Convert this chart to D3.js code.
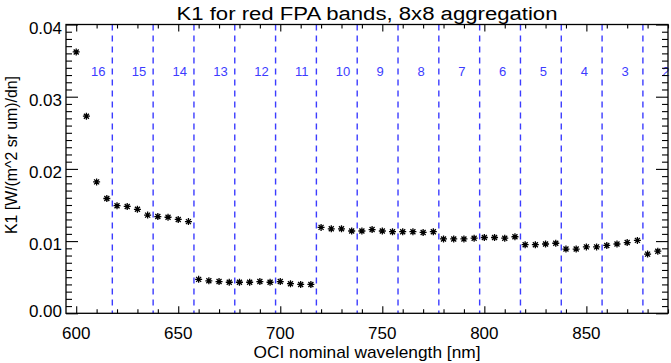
<!DOCTYPE html>
<html>
<head>
<meta charset="utf-8">
<script src="https://cdn.jsdelivr.net/npm/d3@7"></script>
<style>
  body { margin: 0; background: #fff; }
  text { font-family: "Liberation Sans", Arial, sans-serif; }
</style>
</head>
<body>
<svg id="chart"></svg>
<script>
// wavelengths (nm) and K1 values
const wavelengths = [600, 605, 610, 615, 620, 625, 630, 635, 640, 645, 650, 655,
    660, 665, 670, 675, 680, 685, 690, 695, 700, 705, 710, 715,
    720, 725, 730, 735, 740, 745, 750, 755, 760, 765, 770, 775,
    780, 785, 790, 795, 800, 805, 810, 815, 820, 825, 830, 835,
    840, 845, 850, 855, 860, 865, 870, 875, 880, 885];
const k1 = [0.0362, 0.0273, 0.0182, 0.0159, 0.0149, 0.0148, 0.0144, 0.0136, 0.0134, 0.0133, 0.0130, 0.0127,
    0.0047, 0.0045, 0.0044, 0.0043, 0.0043, 0.0043, 0.0044, 0.0043, 0.0044, 0.0041, 0.0040, 0.0040,
    0.0119, 0.0117, 0.0117, 0.0114, 0.0114, 0.0116, 0.0114, 0.0113, 0.0113, 0.0113, 0.0112, 0.0113,
    0.0103, 0.0103, 0.0103, 0.0104, 0.0105, 0.0105, 0.0104, 0.0106,
    0.0095, 0.0095, 0.0096, 0.0097, 0.0089, 0.0089, 0.0092, 0.0092,
    0.0094, 0.0096, 0.0098, 0.0101, 0.0082, 0.0086];

// band borders (dashed lines) and band labels at band centres
const bandEdges = [617.7, 637.7, 657.7, 677.7, 697.7, 717.7, 737.7, 757.7, 777.7, 797.7, 817.7, 837.7, 857.7, 877.7];
const bandNames = ["16", "15", "14", "13", "12", "11", "10", "9", "8", "7", "6", "5", "4", "3", "2"];
const bandCenters = [607.7, 627.7, 647.7, 667.7, 687.7, 707.7, 727.7, 747.7, 767.7, 787.7, 807.7, 827.7, 847.7, 867.7, 887.7];

const xMajor = [600, 650, 700, 750, 800, 850];
const xMinor = [610, 620, 630, 640, 660, 670, 680, 690, 710, 720, 730, 740, 760, 770, 780, 790,
    810, 820, 830, 840, 860, 870, 880, 890];
const yMajor = [0, 0.01, 0.02, 0.03, 0.04];
const yMinor = [0.001, 0.002, 0.003, 0.004, 0.005, 0.006, 0.007, 0.008, 0.009,
    0.011, 0.012, 0.013, 0.014, 0.015, 0.016, 0.017, 0.018, 0.019,
    0.021, 0.022, 0.023, 0.024, 0.025, 0.026, 0.027, 0.028, 0.029,
    0.031, 0.032, 0.033, 0.034, 0.035, 0.036, 0.037, 0.038, 0.039];

const width = 671, height = 363;
const plotLeft = 66, plotRight = 668, plotTop = 24.5, plotBottom = 313.3;
const blue = "#3c3cff";

const svg = d3.select("#chart")
    .attr("width", width)
    .attr("height", height);

const x = d3.scaleLinear().domain([595, 890]).range([plotLeft, plotRight]);
const y = d3.scaleLinear().domain([0, 0.04]).range([plotBottom, plotTop]);

// dashed band borders
svg.selectAll("line.band")
    .data(bandEdges)
    .enter().append("line")
    .attr("class", "band")
    .attr("x1", d => x(d)).attr("x2", d => x(d))
    .attr("y1", plotTop).attr("y2", plotBottom)
    .attr("stroke", blue)
    .attr("stroke-width", 1.4)
    .attr("stroke-dasharray", "6,5");

svg.selectAll("text.bandname")
    .data(bandNames)
    .enter().append("text")
    .attr("class", "bandname")
    .attr("x", (d, i) => x(bandCenters[i]) - 1)
    .attr("y", 75.5)
    .attr("fill", blue)
    .style("font-size", "13px")
    .text(d => d);

// axes: ticks pointing inward, all four sides
function axisTicks(axisFn, scale, values, size, transform) {
    const g = svg.append("g")
        .attr("transform", transform)
        .call(axisFn(scale).tickValues(values).tickSize(size).tickSizeOuter(0).tickFormat(""));
    g.select(".domain").remove();
    g.selectAll(".tick line").attr("stroke", "#000").attr("stroke-width", 1.1);
    return g;
}
axisTicks(d3.axisBottom, x, xMajor, -7, `translate(0,${plotBottom})`);
axisTicks(d3.axisBottom, x, xMinor, -4, `translate(0,${plotBottom})`);
axisTicks(d3.axisTop, x, xMajor, -7, `translate(0,${plotTop})`);
axisTicks(d3.axisTop, x, xMinor, -4, `translate(0,${plotTop})`);
axisTicks(d3.axisLeft, y, yMajor, -12, `translate(${plotLeft},0)`);
axisTicks(d3.axisLeft, y, yMinor, -6, `translate(${plotLeft},0)`);
axisTicks(d3.axisRight, y, yMajor, -12, `translate(${plotRight},0)`);
axisTicks(d3.axisRight, y, yMinor, -6, `translate(${plotRight},0)`);

svg.append("rect")
    .attr("x", plotLeft).attr("y", plotTop)
    .attr("width", plotRight - plotLeft).attr("height", plotBottom - plotTop)
    .attr("fill", "none")
    .attr("stroke", "#000")
    .attr("stroke-width", 1.3);

// tick labels
svg.selectAll("text.xlab")
    .data(xMajor)
    .enter().append("text")
    .attr("class", "xlab")
    .attr("x", d => x(d))
    .attr("y", 338.5)
    .attr("text-anchor", "middle")
    .style("font-size", "17px")
    .text(d => d);

svg.selectAll("text.ylab")
    .data(yMajor)
    .enter().append("text")
    .attr("class", "ylab")
    .attr("x", 62)
    .attr("y", d => Math.min(y(d) + 9, 317))
    .attr("text-anchor", "end")
    .style("font-size", "17px")
    .text(d => d3.format(".2f")(d));

// titles
svg.append("text")
    .attr("x", 367).attr("y", 19.5)
    .attr("text-anchor", "middle")
    .attr("textLength", 381).attr("lengthAdjust", "spacingAndGlyphs")
    .style("font-size", "18px")
    .text("K1 for red FPA bands, 8x8 aggregation");

svg.append("text")
    .attr("x", 367).attr("y", 357.5)
    .attr("text-anchor", "middle")
    .attr("textLength", 227).attr("lengthAdjust", "spacingAndGlyphs")
    .style("font-size", "17px")
    .text("OCI nominal wavelength [nm]");

svg.append("text")
    .attr("transform", "translate(17,155) rotate(-90)")
    .attr("text-anchor", "middle")
    .attr("textLength", 158).attr("lengthAdjust", "spacingAndGlyphs")
    .style("font-size", "16px")
    .text("K1 [W/(m^2 sr um)/dn]");

// asterisk markers
const star = "M-3.5,0H3.5M0,-3.5V3.5M-2.5,-2.5L2.5,2.5M-2.5,2.5L2.5,-2.5";
svg.selectAll("path.pt")
    .data(wavelengths)
    .enter().append("path")
    .attr("class", "pt")
    .attr("transform", (d, i) => `translate(${x(d)},${y(k1[i])})`)
    .attr("d", star)
    .attr("fill", "none")
    .attr("stroke", "#000")
    .attr("stroke-width", 1.3);
</script>
</body>
</html>
